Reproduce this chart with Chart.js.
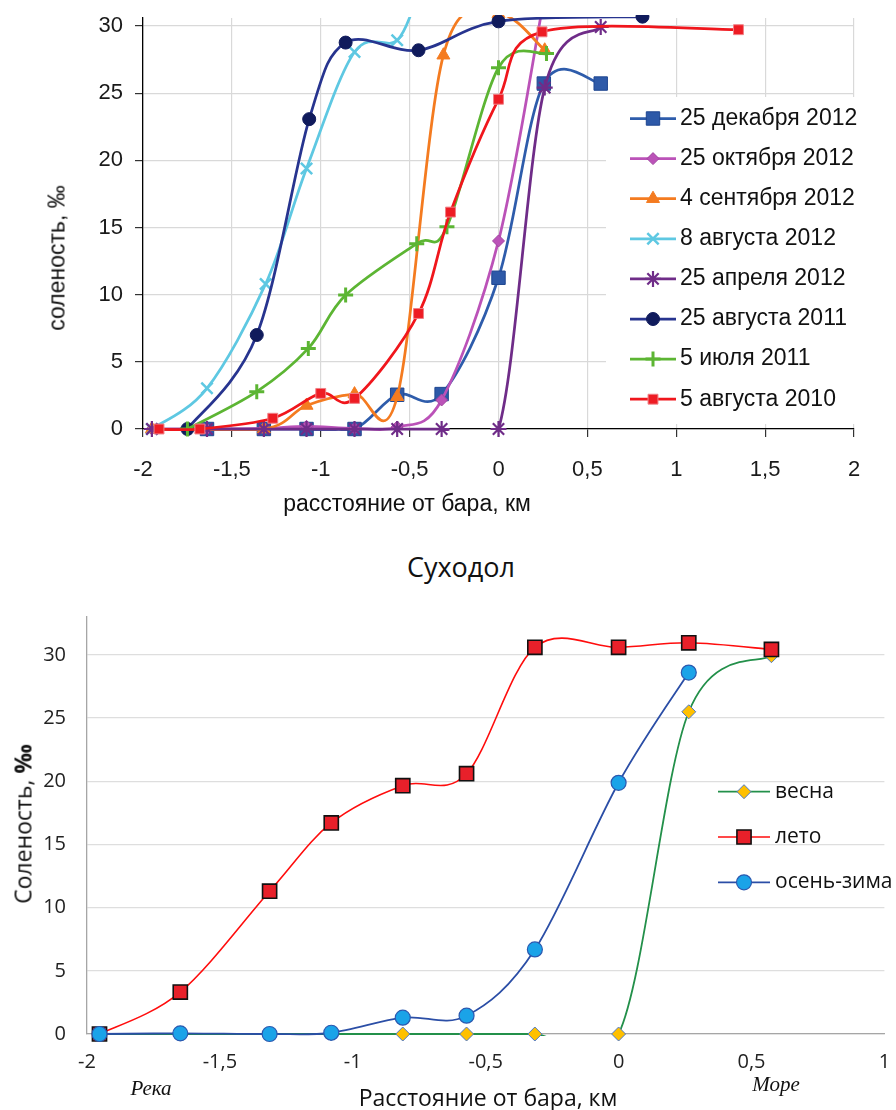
<!DOCTYPE html>
<html>
<head>
<meta charset="utf-8">
<script src="https://cdn.jsdelivr.net/npm/chart.js@4.4.1/dist/chart.umd.min.js"></script>
<style>
  html, body { margin: 0; padding: 0; background: #fff; }
  #page { position: relative; width: 896px; height: 1110px; overflow: hidden; background: #fff; }
  #page canvas { position: absolute; left: 0; }
  .lbl { position: absolute; white-space: nowrap; line-height: 1; color: #111; transform: translate(-50%, -50%); }
  .rot { transform: translate(-50%, -50%) rotate(-90deg); }
  .sans { font-family: 'Liberation Sans', Arial, sans-serif; font-size: 23px; }
  .calib { font-family: 'Open Sans', 'Noto Sans', sans-serif; }
  .ital { font-family: 'Liberation Serif', 'Times New Roman', serif; font-style: italic; font-size: 21px; }
</style>
</head>
<body>
<div id="page">
  <canvas id="topChart" width="896" height="530" style="top:0"></canvas>
  <canvas id="bottomChart" width="896" height="520" style="top:590px"></canvas>

  <div class="lbl sans rot" style="left:57px; top:258px;">соленость, ‰</div>
  <div class="lbl sans" style="left:407px; top:503px;">расстояние от бара, км</div>

  <div class="lbl calib" style="left:461px; top:566px; font-size:27px;">Суходол</div>
  <div class="lbl calib rot" style="left:23px; top:824px; font-size:23px;">Соленость, <b>‰</b></div>
  <div class="lbl calib" style="left:488px; top:1097px; font-size:23px;">Расстояние от бара, км</div>
  <div class="lbl ital" style="left:151px; top:1088px;">Река</div>
  <div class="lbl ital" style="left:776px; top:1084px;">Море</div>
</div>

<script>
// ---------- Upper panel: salinity profiles along the estuary, by survey date ----------
const topLabels = ['25 декабря 2012', '25 октября 2012', '4 сентября 2012', '8 августа 2012',
                   '25 апреля 2012', '25 августа 2011', '5 июля 2011', '5 августа 2010'];

const dec2012X = [-1.64, -1.32, -1.08, -0.81, -0.57, -0.32, 0.0, 0.255, 0.575];
const dec2012Y = [0, 0, 0, 0, 2.55, 2.6, 11.26, 25.72, 25.72];

const oct2012X = [-1.95, -1.64, -1.32, -1.08, -0.81, -0.57, -0.32, 0.0, 0.255];
const oct2012Y = [0, 0, 0.05, 0.2, 0.05, 0.15, 2.16, 14.0, 32.0];

const sep2012X = [-1.95, -1.32, -1.08, -0.81, -0.57, -0.31, 0.0, 0.26];
const sep2012Y = [0, 0, 1.75, 2.6, 2.4, 27.83, 30.9, 28.2];

const aug2012X = [-1.95, -1.64, -1.31, -1.08, -0.81, -0.57, -0.45];
const aug2012Y = [0, 3.03, 10.8, 19.4, 28.07, 28.94, 32.5];

const apr2012X = [-1.95, -1.64, -1.32, -1.08, -0.81, -0.57, -0.32, 0.0, 0.26, 0.575];
const apr2012Y = [0, 0, 0, 0, 0, 0, 0, 0, 25.42, 29.93];

const aug2011X = [-1.75, -1.36, -1.065, -0.86, -0.45, 0.0, 0.81];
const aug2011Y = [0, 7.0, 23.07, 28.77, 28.2, 30.35, 30.7];

const jul2011X = [-1.75, -1.36, -1.07, -0.86, -0.46, -0.29, 0.0, 0.27];
const jul2011Y = [0, 2.78, 6.0, 9.97, 13.8, 15.05, 26.9, 27.95];

const aug2010X = [-1.91, -1.68, -1.27, -1.0, -0.81, -0.45, -0.27, 0.0, 0.245, 1.35];
const aug2010Y = [0, 0, 0.8, 2.65, 2.28, 8.6, 16.15, 24.55, 29.57, 29.73];

const topXTicks = { min: -2, max: 2, step: 0.5 };
const topYTicks = { min: 0, max: 30.6, step: 5 };

// ---------- Lower panel: Суходол, seasonal profiles ----------
const seasonLabels = ['весна', 'лето', 'осень-зима'];

const springX = [-1.953, -1.649, -1.313, -1.081, -0.812, -0.572, -0.315, 0.0, 0.264, 0.575];
const springY = [0, 0, 0, 0, 0, 0, 0, 0, 25.5, 29.94];

const summerX = [-1.953, -1.649, -1.313, -1.081, -0.812, -0.572, -0.315, 0.0, 0.264, 0.575];
const summerY = [0, 3.32, 11.3, 16.7, 19.65, 20.6, 30.6, 30.6, 30.96, 30.43];

const autumnX = [-1.953, -1.649, -1.313, -1.081, -0.812, -0.572, -0.315, 0.0, 0.264];
const autumnY = [0, 0.05, 0, 0.1, 1.29, 1.45, 6.69, 19.88, 28.6];

const bottomXTicks = { min: -2, max: 1, step: 0.5 };
const bottomYTicks = { min: 0, max: 33, step: 5 };

// ---------- Styles ----------
const topStyles = [
  { line: '#2e5cab', lw: 2.75, shape: 'rect',     r: 9.5, fill: '#2d59a8', edge: '#1f4690', bw: 1 },
  { line: '#bb52b8', lw: 2.75, shape: 'rectRot',  r: 6,   fill: '#bb52b8', edge: '#a044a0', bw: 1 },
  { line: '#f47b20', lw: 2.75, shape: 'triangle', r: 7.5, fill: '#f47b20', edge: '#f47b20', bw: 1 },
  { line: '#5ec8e2', lw: 2.75, shape: 'crossRot', r: 8,   fill: '#5ec8e2', edge: '#5ec8e2', bw: 2.5 },
  { line: '#6f2c88', lw: 2.75, shape: 'star',     r: 8,   fill: '#6f2c88', edge: '#6f2c88', bw: 2.2 },
  { line: '#27348f', lw: 2.75, shape: 'circle',   r: 6.5, fill: '#101b5c', edge: '#101b5c', bw: 1 },
  { line: '#5cb533', lw: 2.75, shape: 'cross',    r: 7.5, fill: '#5cb533', edge: '#5cb533', bw: 3 },
  { line: '#f0161c', lw: 2.75, shape: 'rect',     r: 7,   fill: '#ee1c24', edge: '#f08086', bw: 1 }
];
const seasonStyles = [
  { line: '#23904a', lw: 1.8, shape: 'rectRot', r: 7,   fill: '#ffc000', edge: '#4f7ac7', bw: 1 },
  { line: '#ff0d0d', lw: 1.6, shape: 'rect',    r: 10,  fill: '#e8202a', edge: '#111111', bw: 1.6 },
  { line: '#2b4ea6', lw: 1.8, shape: 'circle',  r: 7.5, fill: '#1aa3e8', edge: '#2b59b0', bw: 1.2 }
];

const decimalComma = v => String(Math.round(v * 10) / 10).replace('.', ',');

// Each series becomes a smoothed line (clipped to the plot) plus its markers
// (allowed to overhang the axes). Later series are drawn above earlier ones.
function seriesDatasets(xs, ys, st, rank, total) {
  const pts = xs.map((x, i) => ({ x: x, y: ys[i] }));
  const z = 2 * (total - 1 - rank);
  return [
    { data: pts, showLine: true, fill: false, borderColor: st.line, borderWidth: st.lw,
      pointRadius: 0, pointHoverRadius: 0, tension: 0.4,
      clip: { left: 4, right: 4, top: 1, bottom: 2 }, order: z + 1 },
    { data: pts, showLine: false, pointStyle: st.shape, pointRadius: st.r, pointHoverRadius: st.r,
      pointBackgroundColor: st.fill, pointBorderColor: st.edge, pointBorderWidth: st.bw,
      clip: { left: 15, right: 15, top: 3, bottom: 15 }, order: z }
  ];
}

// Spreadsheet-style smoothing: Catmull-Rom tangents (P[i+1]-P[i-1])/6.
const smoothCurves = {
  id: 'smoothCurves',
  beforeDatasetDraw(chart, args) {
    const line = args.meta.dataset;
    if (!line || !line.options || !line.options.tension) return;
    line.updateControlPoints(chart.chartArea, args.meta.indexAxis);
    const pts = line.points;
    const n = pts.length;
    for (let i = 0; i < n; i++) {
      const p = pts[i], a = pts[Math.max(i - 1, 0)], b = pts[Math.min(i + 1, n - 1)];
      const tx = (b.x - a.x) / 6, ty = (b.y - a.y) / 6;
      p.cp1x = p.x - tx; p.cp1y = p.y - ty;
      p.cp2x = p.x + tx; p.cp2y = p.y + ty;
    }
  }
};

// Legend drawn inside the plot area.
function insetLegend(cfg) {
  return {
    id: 'insetLegend',
    afterDraw(chart) {
      const ctx = chart.ctx;
      ctx.save();
      if (cfg.box) {
        ctx.fillStyle = '#ffffff';
        ctx.fillRect(cfg.box.x, cfg.box.y, cfg.box.w, cfg.box.h);
      }
      ctx.font = cfg.font;
      ctx.textBaseline = 'middle';
      ctx.textAlign = 'left';
      cfg.labels.forEach((label, k) => {
        const st = cfg.styles[k];
        const y = cfg.y + k * cfg.rowH;
        ctx.strokeStyle = st.line;
        ctx.lineWidth = st.lw;
        ctx.beginPath();
        ctx.moveTo(cfg.x, y);
        ctx.lineTo(cfg.x + cfg.len, y);
        ctx.stroke();
        ctx.fillStyle = st.fill;
        ctx.strokeStyle = st.edge;
        ctx.lineWidth = st.bw;
        Chart.helpers.drawPoint(ctx, { pointStyle: st.shape, radius: st.r, borderWidth: st.bw, rotation: 0 },
                                cfg.x + cfg.len / 2, y);
        ctx.fillStyle = cfg.color;
        ctx.fillText(label, cfg.x + cfg.len + cfg.gap, y);
      });
      ctx.restore();
    }
  };
}

// ---------- Upper chart ----------
const topSeries = [
  [dec2012X, dec2012Y], [oct2012X, oct2012Y], [sep2012X, sep2012Y], [aug2012X, aug2012Y],
  [apr2012X, apr2012Y], [aug2011X, aug2011Y], [jul2011X, jul2011Y], [aug2010X, aug2010Y]
];
const topDatasets = [];
topSeries.forEach((s, i) => topDatasets.push(...seriesDatasets(s[0], s[1], topStyles[i], i, topSeries.length)));

const sansFont = "'Liberation Sans', Arial, sans-serif";

new Chart(document.getElementById('topChart'), {
  type: 'line',
  data: { datasets: topDatasets },
  options: {
    responsive: false,
    animation: false,
    devicePixelRatio: 1,
    events: [],
    layout: { padding: { left: 0, top: 18, right: 42, bottom: 0 } },
    plugins: { legend: { display: false }, tooltip: { enabled: false } },
    scales: {
      x: {
        type: 'linear', min: topXTicks.min, max: topXTicks.max,
        ticks: { stepSize: topXTicks.step, callback: decimalComma, autoSkip: false, maxRotation: 0,
                 font: { family: sansFont, size: 22 }, color: '#1a1a1a', padding: 20 },
        grid: { color: '#d9d9d9', lineWidth: 1.2, tickLength: 8, tickColor: '#333', tickWidth: 1.2 },
        border: { color: '#000', width: 1.3 },
        afterFit(s) { s.height = 101; s.paddingLeft = 0; s.paddingRight = 0; }
      },
      y: {
        type: 'linear', min: topYTicks.min, max: topYTicks.max,
        ticks: { stepSize: topYTicks.step, includeBounds: false, callback: decimalComma,
                 font: { family: sansFont, size: 22 }, color: '#1a1a1a', padding: 12 },
        grid: { color: '#d9d9d9', lineWidth: 1.2, tickLength: 8, tickColor: '#333', tickWidth: 1.2 },
        border: { color: '#000', width: 1.3 },
        afterFit(s) { s.width = 143; s.paddingTop = 0; s.paddingBottom = 0; }
      }
    }
  },
  plugins: [smoothCurves, insetLegend({
    labels: topLabels, styles: topStyles,
    x: 630, y: 118.5, rowH: 40.1, len: 46, gap: 4,
    font: "23px " + sansFont, color: '#111',
    box: { x: 606, y: 97, w: 290, h: 327 }
  })]
});

// ---------- Lower chart ----------
const seasonSeries = [[springX, springY], [summerX, summerY], [autumnX, autumnY]];
const bottomDatasets = [];
seasonSeries.forEach((s, i) => bottomDatasets.push(...seriesDatasets(s[0], s[1], seasonStyles[i], i, seasonSeries.length)));

const calibFont = "'Open Sans', 'Noto Sans', sans-serif";

new Chart(document.getElementById('bottomChart'), {
  type: 'line',
  data: { datasets: bottomDatasets },
  options: {
    responsive: false,
    animation: false,
    devicePixelRatio: 1,
    events: [],
    layout: { padding: { left: 0, top: 27, right: 5, bottom: 0 } },
    plugins: { legend: { display: false }, tooltip: { enabled: false } },
    scales: {
      x: {
        type: 'linear', min: bottomXTicks.min, max: bottomXTicks.max,
        ticks: { stepSize: bottomXTicks.step, callback: decimalComma, autoSkip: false, maxRotation: 0,
                 font: { family: calibFont, size: 20 }, color: '#222', padding: 16 },
        grid: { display: false, drawTicks: false },
        border: { color: '#a6a6a6', width: 1.3 },
        afterFit(s) { s.height = 76; s.paddingLeft = 0; s.paddingRight = 0; }
      },
      y: {
        type: 'linear', min: bottomYTicks.min, max: bottomYTicks.max,
        ticks: { stepSize: bottomYTicks.step, includeBounds: false, callback: decimalComma,
                 font: { family: calibFont, size: 20 }, color: '#222', padding: 21 },
        grid: { color: '#dedede', lineWidth: 1.3, drawTicks: false },
        border: { color: '#a6a6a6', width: 1.3 },
        afterFit(s) { s.width = 87; s.paddingTop = 0; s.paddingBottom = 0; }
      }
    }
  },
  plugins: [smoothCurves, insetLegend({
    labels: seasonLabels, styles: seasonStyles,
    x: 718, y: 201.7, rowH: 45.3, len: 52, gap: 5,
    font: "21px " + calibFont, color: '#111',
    box: null
  })]
});
</script>
</body>
</html>
